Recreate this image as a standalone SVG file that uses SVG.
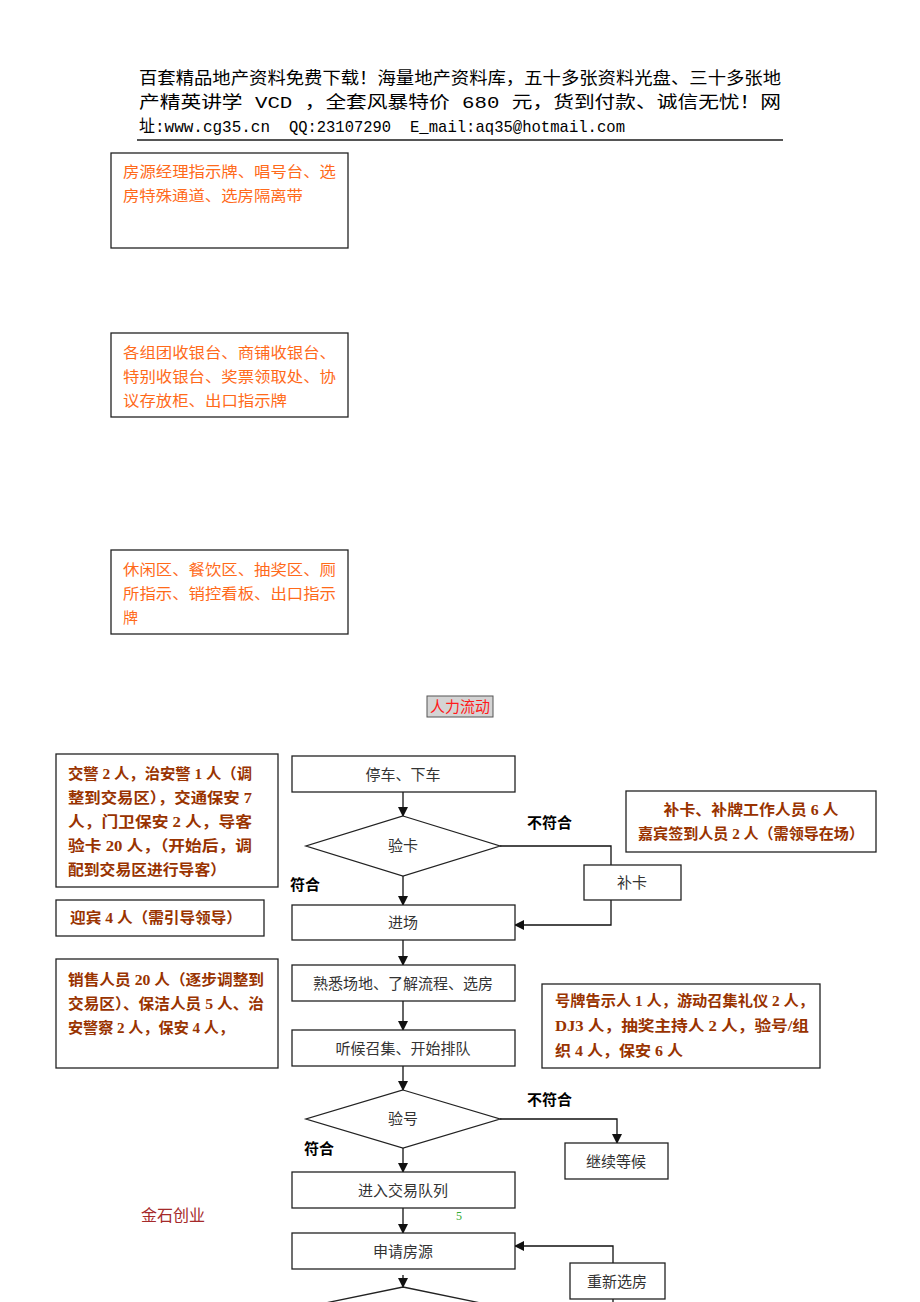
<svg xmlns="http://www.w3.org/2000/svg" width="920" height="1302" viewBox="0 0 920 1302">
<style>
.hdr{font-family:"Liberation Mono","Noto Sans CJK SC",monospace;font-size:17px;fill:#000}
.org{font-family:"Noto Sans CJK SC",sans-serif;font-size:15px;fill:#ff6a1a}
.brn{font-family:"Liberation Serif","Noto Sans CJK SC",serif;font-size:15px;font-weight:bold;fill:#993300}
.nd{font-family:"Noto Sans CJK SC",sans-serif;font-size:15px;fill:#333;text-anchor:middle}
.lbl{font-family:"Noto Sans CJK SC",sans-serif;font-size:15px;font-weight:bold;fill:#000}
.box{fill:#fff;stroke:#222;stroke-width:1.3}
.con{fill:none;stroke:#111;stroke-width:1.3}
</style>
<defs>
<marker id="ah" markerWidth="10" markerHeight="10" refX="9" refY="5" orient="auto" markerUnits="userSpaceOnUse">
<path d="M0,0 L10,5 L0,10 Z" fill="#111"/>
</marker>
</defs>
<rect width="920" height="1302" fill="#fff"/>

<g id="header">
<text class="hdr" x="139" y="84" textLength="642" lengthAdjust="spacingAndGlyphs">百套精品地产资料免费下载！海量地产资料库，五十多张资料光盘、三十多张地</text>
<text class="hdr" x="139" y="108" textLength="642" lengthAdjust="spacingAndGlyphs">产精英讲学 VCD ，全套风暴特价 680  元，货到付款、诚信无忧！网</text>
<text class="hdr" x="139" y="132" textLength="131" lengthAdjust="spacingAndGlyphs">址:www.cg35.cn</text>
<text class="hdr" x="289" y="132" textLength="102" lengthAdjust="spacingAndGlyphs">QQ:23107290</text>
<text class="hdr" x="410" y="132" textLength="215" lengthAdjust="spacingAndGlyphs">E_mail:aq35@hotmail.com</text>
<line x1="137" y1="140" x2="783" y2="140" stroke="#555" stroke-width="2"/>
</g>

<g id="zone1">
<rect class="box" x="111" y="153" width="237" height="95"/>
<text class="org" x="123" y="177" textLength="213" lengthAdjust="spacingAndGlyphs">房源经理指示牌、唱号台、选</text>
<text class="org" x="123" y="201" textLength="180" lengthAdjust="spacingAndGlyphs">房特殊通道、选房隔离带</text>
</g>

<g id="zone2">
<rect class="box" x="111" y="333" width="237" height="84"/>
<text class="org" x="123" y="358" textLength="213" lengthAdjust="spacingAndGlyphs">各组团收银台、商铺收银台、</text>
<text class="org" x="123" y="382" textLength="213" lengthAdjust="spacingAndGlyphs">特别收银台、奖票领取处、协</text>
<text class="org" x="123" y="406" textLength="164" lengthAdjust="spacingAndGlyphs">议存放柜、出口指示牌</text>
</g>

<g id="zone3">
<rect class="box" x="111" y="550" width="237" height="84"/>
<text class="org" x="123" y="575" textLength="213" lengthAdjust="spacingAndGlyphs">休闲区、餐饮区、抽奖区、厕</text>
<text class="org" x="123" y="599" textLength="213" lengthAdjust="spacingAndGlyphs">所指示、销控看板、出口指示</text>
<text class="org" x="123" y="623">牌</text>
</g>

<g id="title">
<rect x="427" y="696" width="66" height="21" fill="#d4d4d4" stroke="#555" stroke-width="1"/>
<text x="460" y="712" font-family="Noto Sans CJK SC,sans-serif" font-size="15" fill="#ff1a1a" text-anchor="middle">人力流动</text>
</g>

<g id="staffA">
<rect class="box" x="56" y="754" width="222" height="133"/>
<text class="brn" x="68" y="779" textLength="184" lengthAdjust="spacingAndGlyphs">交警 2 人，治安警 1 人（调</text>
<text class="brn" x="68" y="803" textLength="184" lengthAdjust="spacingAndGlyphs">整到交易区），交通保安 7</text>
<text class="brn" x="68" y="827" textLength="184" lengthAdjust="spacingAndGlyphs">人，门卫保安 2 人，导客</text>
<text class="brn" x="68" y="851" textLength="184" lengthAdjust="spacingAndGlyphs">验卡 20 人，（开始后，调</text>
<text class="brn" x="68" y="875" textLength="158" lengthAdjust="spacingAndGlyphs">配到交易区进行导客）</text>
</g>

<g id="staffB">
<rect class="box" x="56" y="900" width="208" height="36"/>
<text class="brn" x="70" y="923" textLength="172" lengthAdjust="spacingAndGlyphs">迎宾 4 人（需引导领导）</text>
</g>

<g id="staffC">
<rect class="box" x="56" y="959" width="222" height="109"/>
<text class="brn" x="68" y="985" textLength="196" lengthAdjust="spacingAndGlyphs">销售人员 20 人（逐步调整到</text>
<text class="brn" x="68" y="1009" textLength="196" lengthAdjust="spacingAndGlyphs">交易区）、保洁人员 5 人、治</text>
<text class="brn" x="68" y="1033" textLength="166" lengthAdjust="spacingAndGlyphs">安警察 2 人，保安 4 人，</text>
</g>

<g id="staffD">
<rect class="box" x="626" y="791" width="250" height="61"/>
<text class="brn" x="751" y="815" text-anchor="middle" textLength="175" lengthAdjust="spacingAndGlyphs">补卡、补牌工作人员 6 人</text>
<text class="brn" x="751" y="839" text-anchor="middle" textLength="226" lengthAdjust="spacingAndGlyphs">嘉宾签到人员 2 人（需领导在场）</text>
</g>

<g id="staffE">
<rect class="box" x="542" y="984" width="278" height="84"/>
<text class="brn" x="555" y="1006" textLength="259" lengthAdjust="spacingAndGlyphs">号牌告示人 1 人，游动召集礼仪 2 人，</text>
<text class="brn" x="555" y="1031" textLength="254" lengthAdjust="spacingAndGlyphs">DJ3 人，抽奖主持人 2 人，验号/组</text>
<text class="brn" x="555" y="1056" textLength="128" lengthAdjust="spacingAndGlyphs">织 4 人，保安 6 人</text>
</g>

<g id="connectors">
<line class="con" x1="403" y1="792" x2="403" y2="816" marker-end="url(#ah)"/>
<polyline class="con" points="500,846 611,846 611,865"/>
<line class="con" x1="403" y1="876" x2="403" y2="905" marker-end="url(#ah)"/>
<polyline class="con" points="611,900 611,925 515,925" marker-end="url(#ah)"/>
<line class="con" x1="403" y1="940" x2="403" y2="965" marker-end="url(#ah)"/>
<line class="con" x1="403" y1="1001" x2="403" y2="1030" marker-end="url(#ah)"/>
<line class="con" x1="403" y1="1066" x2="403" y2="1090" marker-end="url(#ah)"/>
<polyline class="con" points="500,1119 617,1119 617,1143" marker-end="url(#ah)"/>
<line class="con" x1="403" y1="1148" x2="403" y2="1172" marker-end="url(#ah)"/>
<line class="con" x1="403" y1="1208" x2="403" y2="1233" marker-end="url(#ah)"/>
<line class="con" x1="403" y1="1275" x2="403" y2="1287" marker-end="url(#ah)"/>
<polyline class="con" points="613,1263 613,1246 515,1246" marker-end="url(#ah)"/>
<line class="con" x1="613" y1="1299" x2="613" y2="1302"/>
</g>

<g id="n-park">
<rect class="box" x="292" y="756" width="223" height="36"/>
<text class="nd" x="403" y="780">停车、下车</text>
</g>
<g id="n-checkcard">
<polygon class="box" points="403,816 500,846 403,876 306,846"/>
<text class="nd" x="403" y="851">验卡</text>
</g>
<g id="n-reissue">
<rect class="box" x="584" y="865" width="97" height="35"/>
<text class="nd" x="632" y="888">补卡</text>
</g>
<g id="n-enter">
<rect class="box" x="292" y="905" width="223" height="35"/>
<text class="nd" x="403" y="928">进场</text>
</g>
<g id="n-familiar">
<rect class="box" x="292" y="965" width="223" height="36"/>
<text class="nd" x="403" y="989">熟悉场地、了解流程、选房</text>
</g>
<g id="n-wait">
<rect class="box" x="292" y="1030" width="223" height="36"/>
<text class="nd" x="403" y="1054">听候召集、开始排队</text>
</g>
<g id="n-checknum">
<polygon class="box" points="403,1090 500,1119 403,1148 306,1119"/>
<text class="nd" x="403" y="1124">验号</text>
</g>
<g id="n-keepwait">
<rect class="box" x="565" y="1143" width="103" height="36"/>
<text class="nd" x="616" y="1167">继续等候</text>
</g>
<g id="n-queue">
<rect class="box" x="292" y="1172" width="223" height="36"/>
<text class="nd" x="403" y="1196">进入交易队列</text>
</g>
<g id="n-apply">
<rect class="box" x="292" y="1233" width="223" height="36"/>
<text class="nd" x="403" y="1257">申请房源</text>
</g>
<g id="n-reselect">
<rect class="box" x="570" y="1263" width="95" height="36"/>
<text class="nd" x="617" y="1287">重新选房</text>
</g>
<g id="n-next">
<polygon class="box" points="403,1287 500,1307 403,1327 306,1307"/>
</g>

<g id="labels">
<text class="lbl" x="527" y="828">不符合</text>
<text class="lbl" x="290" y="890">符合</text>
<text class="lbl" x="527" y="1105">不符合</text>
<text class="lbl" x="304" y="1154">符合</text>
<text x="141" y="1221" font-family="Liberation Serif,Noto Sans CJK SC,serif" font-size="16" fill="#a52a2a">金石创业</text>
<text x="456" y="1220" font-family="Liberation Serif,serif" font-size="12" fill="#3a3">5</text>
</g>
</svg>
